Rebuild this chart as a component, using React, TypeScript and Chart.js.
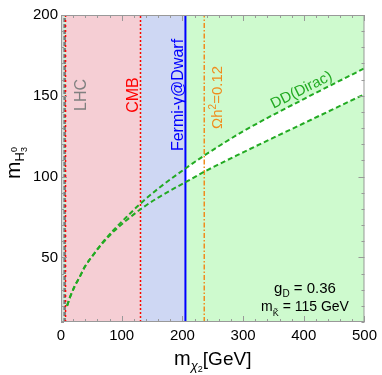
import React, { useEffect, useRef } from "react";
import { Chart, registerables } from "chart.js";
Chart.register(...registerables);

// ---- data ----
const curveX = [10, 15, 23, 31, 39, 47, 56, 69, 88, 108, 130, 160, 205, 236, 300, 400, 500];
const upperY = [20, 25.5, 32.5, 38, 44, 48.5, 53, 59.5, 67.5, 75, 83, 92.5, 105, 113, 128, 148, 167];
const lowerY = [20, 25.5, 32.5, 38, 44, 48.5, 53, 59, 66.5, 73, 79.5, 87, 96.5, 103, 115, 133, 151];

const lhcBound = 6;
const cmbLow = 7.5;
const cmbBound = 131;
const fermiBound = 205;
const relicBound = 236;

const xRange = [0, 500];
const yRange = [10, 200];
const xTicks = [0, 100, 200, 300, 400, 500];
const yTicks = [50, 100, 150, 200];

const pts = (xs: number[], ys: number[]) => xs.map((x, i) => ({ x, y: ys[i] }));
const vline = (x: number) => [{ x, y: yRange[0] }, { x, y: yRange[1] }];
const band = (a: number, b: number) => [{ x: a, y: yRange[1] }, { x: b, y: yRange[1] }];

type Seg = { t: string; size: number; dy?: number; adv?: boolean; italic?: boolean };

function drawRich(
  ctx: CanvasRenderingContext2D,
  segs: Seg[],
  x: number,
  y: number,
  angle: number,
  color: string
) {
  ctx.save();
  ctx.translate(x, y);
  ctx.rotate(angle);
  ctx.fillStyle = color;
  ctx.textBaseline = "alphabetic";
  ctx.textAlign = "left";
  const font = (s: Seg) => `${s.italic ? "italic " : ""}${s.size}px "Liberation Sans", Arial, sans-serif`;
  let total = 0;
  let pending = 0;
  for (const s of segs) {
    ctx.font = font(s);
    const w = ctx.measureText(s.t).width;
    if (s.adv === false) {
      pending = Math.max(pending, w);
    } else {
      total += Math.max(w, pending);
      pending = 0;
    }
  }
  total += pending;
  let cx = -total / 2;
  pending = 0;
  for (const s of segs) {
    ctx.font = font(s);
    const w = ctx.measureText(s.t).width;
    ctx.fillText(s.t, cx, s.dy || 0);
    if (s.adv === false) {
      pending = Math.max(pending, w);
    } else {
      cx += Math.max(w, pending);
      pending = 0;
    }
  }
  ctx.restore();
}

const decorPlugin = {
  id: "decor",
  afterDatasetsDraw(chart: any) {
    const ctx: CanvasRenderingContext2D = chart.ctx;
    const xs = chart.scales.x;
    const ys = chart.scales.y;
    const a = chart.chartArea;
    ctx.save();
    // frame ticks (inside)
    ctx.strokeStyle = "#999";
    ctx.lineWidth = 1;
    ctx.beginPath();
    for (let v = xRange[0]; v <= xRange[1]; v += 20) {
      const px = Math.round(xs.getPixelForValue(v)) + 0.5;
      const len = v % 100 === 0 ? 6 : 3;
      ctx.moveTo(px, a.bottom);
      ctx.lineTo(px, a.bottom - len);
      ctx.moveTo(px, a.top);
      ctx.lineTo(px, a.top + len);
    }
    for (let v = 10; v <= yRange[1]; v += 10) {
      const py = Math.round(ys.getPixelForValue(v)) + 0.5;
      const len = v % 50 === 0 ? 6 : 3;
      ctx.moveTo(a.left, py);
      ctx.lineTo(a.left + len, py);
      ctx.moveTo(a.right, py);
      ctx.lineTo(a.right - len, py);
    }
    ctx.stroke();
    ctx.strokeRect(a.left + 0.5, a.top + 0.5, a.right - a.left - 1, a.bottom - a.top - 1);
    ctx.restore();

    const R = -Math.PI / 2;
    const X = (v: number) => xs.getPixelForValue(v);
    const Y = (v: number) => ys.getPixelForValue(v);
    // region labels
    drawRich(ctx, [{ t: "LHC", size: 16 }], X(31) + 5.7, Y(150.5), R, "#808080");
    drawRich(ctx, [{ t: "CMB", size: 16 }], X(118) + 5.7, Y(150.5), R, "#ff0000");
    drawRich(ctx, [{ t: "Fermi-\u03b3@Dwarf", size: 16 }], X(191) + 5.7, Y(150.5), R, "#0000ff");
    drawRich(
      ctx,
      [
        { t: "\u03a9h", size: 15 },
        { t: "2", size: 10, dy: -6 },
        { t: "=0.12", size: 15 },
      ],
      X(257) + 5.4,
      Y(149),
      R,
      "#f08c1e"
    );
    drawRich(ctx, [{ t: "DD(Dirac)", size: 15 }], X(396) + 2, Y(153) + 3, -0.46, "#22aa22");
    // parameter box
    drawRich(
      ctx,
      [
        { t: "g", size: 15 },
        { t: "D", size: 10, dy: 4 },
        { t: " = 0.36", size: 15 },
      ],
      305,
      293,
      0,
      "#000"
    );
    drawRich(
      ctx,
      [
        { t: "m", size: 14 },
        { t: "K\u0303", size: 9, dy: 5 },
        { t: " = 115 GeV", size: 14 },
      ],
      305,
      311,
      0,
      "#000"
    );
    // axis titles
    drawRich(
      ctx,
      [
        { t: "m", size: 20 },
        { t: "\u03c7", size: 13, dy: 5, italic: true },
        { t: "2", size: 9, dy: 7 },
        { t: "[GeV]", size: 19 },
      ],
      (a.left + a.right) / 2,
      365,
      0,
      "#000"
    );
    drawRich(
      ctx,
      [
        { t: "m", size: 21 },
        { t: "H", size: 13, dy: 4 },
        { t: "0", size: 9, dy: -3, adv: false },
        { t: "3", size: 9, dy: 7 },
      ],
      20,
      163,
      R,
      "#000"
    );
  },
};

export default function App() {
  const ref = useRef<HTMLCanvasElement>(null);
  useEffect(() => {
    if (!ref.current) return;
    const green = "#22aa22";
    const base = { showLine: true, pointRadius: 0, borderWidth: 0, fill: false as any };
    const chart = new Chart(ref.current, {
      type: "scatter",
      data: {
        datasets: [
          { ...base, data: band(xRange[0], xRange[1]), fill: "start", backgroundColor: "rgb(206,250,206)", order: 20 },
          { ...base, data: pts(curveX, upperY), fill: 2, backgroundColor: "#ffffff", order: 19 },
          { ...base, data: pts(curveX, lowerY), order: 19 },
          { ...base, data: band(cmbLow, cmbBound), fill: "start", backgroundColor: "rgb(245,206,212)", order: 18 },
          { ...base, data: band(cmbBound, fermiBound), fill: "start", backgroundColor: "rgb(206,215,243)", order: 17 },
          { ...base, data: band(xRange[0], lhcBound), fill: "start", backgroundColor: "rgb(214,224,220)", order: 16 },
          { ...base, data: vline(lhcBound), borderWidth: 2.5, borderColor: "#7a7a7a", borderDash: [4, 2], order: 5 },
          { ...base, data: vline(cmbLow), borderWidth: 1.5, borderColor: "#ff0000", borderDash: [2, 3], order: 4 },
          { ...base, data: vline(cmbBound), borderWidth: 1.5, borderColor: "#ff0000", borderDash: [2, 2], order: 4 },
          { ...base, data: vline(fermiBound), borderWidth: 2, borderColor: "#0000ff", order: 4 },
          { ...base, data: vline(relicBound), borderWidth: 1.5, borderColor: "#f08c1e", borderDash: [5, 2, 1.5, 2], order: 4 },
          { ...base, data: pts(curveX, upperY), borderWidth: 2, borderColor: green, borderDash: [5, 3], cubicInterpolationMode: "monotone", order: 1 },
          { ...base, data: pts(curveX, lowerY), borderWidth: 2, borderColor: green, borderDash: [5, 3], cubicInterpolationMode: "monotone", order: 1 },
        ],
      },
      options: {
        animation: false,
        responsive: false,
        layout: { padding: { left: 0, right: 16, top: 15, bottom: 0 } },
        plugins: { legend: { display: false }, tooltip: { enabled: false } },
        scales: {
          x: {
            type: "linear",
            min: xRange[0],
            max: xRange[1],
            afterBuildTicks: (s: any) => {
              s.ticks = xTicks.map((value) => ({ value }));
            },
            afterFit: (s: any) => {
              s.height = 53;
            },
            ticks: { color: "#000", padding: 5, font: { size: 15, family: '"Liberation Sans", Arial, sans-serif' }, maxRotation: 0 },
            grid: { drawOnChartArea: false, drawTicks: false },
            border: { display: false },
          },
          y: {
            type: "linear",
            min: yRange[0],
            max: yRange[1],
            afterBuildTicks: (s: any) => {
              s.ticks = yTicks.map((value) => ({ value }));
            },
            afterFit: (s: any) => {
              s.width = 61;
            },
            ticks: { color: "#000", padding: 3, font: { size: 15, family: '"Liberation Sans", Arial, sans-serif' } },
            grid: { drawOnChartArea: false, drawTicks: false },
            border: { display: false },
          },
        },
      },
      plugins: [decorPlugin],
    } as any);
    return () => chart.destroy();
  }, []);
  return (
    <div style={{ position: "absolute", left: 0, top: 0, width: 382, height: 375 }}>
      <canvas ref={ref} width={382} height={375} style={{ display: "block" }} />
    </div>
  );
}
